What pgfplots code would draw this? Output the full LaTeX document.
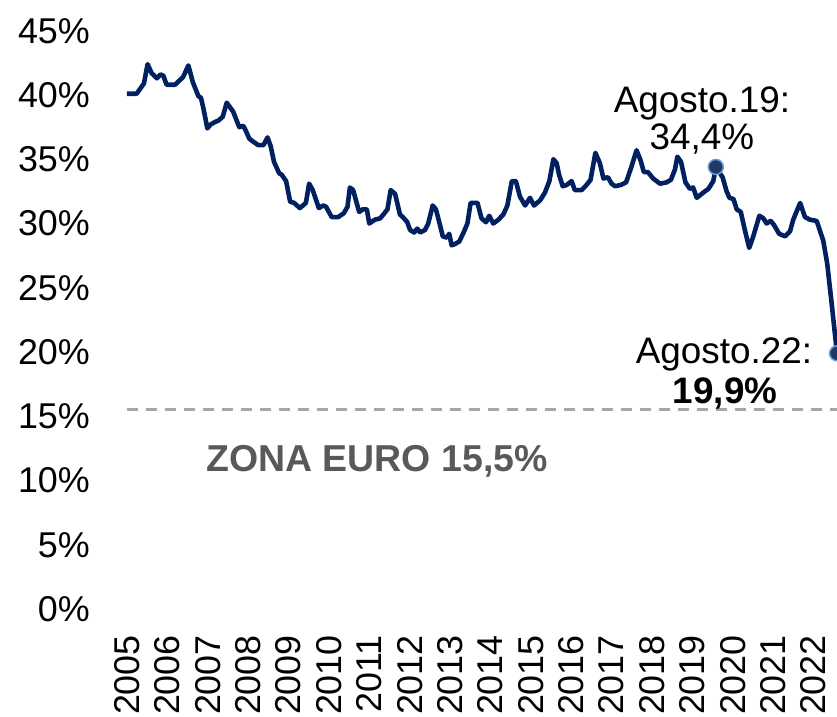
\documentclass[border=0pt]{standalone}
\usepackage{fontspec}
\setmainfont{Liberation Sans}
\usepackage{pgfplots}
\pgfplotsset{compat=1.18}
\definecolor{navy}{HTML}{002060}
\definecolor{mkfill}{HTML}{1F3864}
\definecolor{mkedge}{HTML}{6A9FD6}
\definecolor{dashgray}{HTML}{A6A6A6}
\definecolor{zona}{HTML}{595959}
\begin{document}
\begin{tikzpicture}
\begin{axis}[
  at={(0,0)}, anchor=south west, scale only axis,
  width=710bp, height=578.25bp,
  xmin=2005, xmax=2022.5833, ymin=0, ymax=45,
  axis line style={draw=none}, tick style={draw=none}, major tick length=0pt,
  xtick={2005,2006,2007,2008,2009,2010,2011,2012,2013,2014,2015,2016,2017,2018,2019,2020,2021,2022},
  xticklabels={2005,2006,2007,2008,2009,2010,2011,2012,2013,2014,2015,2016,2017,2018,2019,2020,2021,2022},
  ytick={0,5,10,15,20,25,30,35,40,45},
  yticklabels={0\%,5\%,10\%,15\%,20\%,25\%,30\%,35\%,40\%,45\%},
  yticklabel style={font=\fontsize{36}{40}\selectfont, anchor=east, inner sep=0pt, xshift=-37bp},
  xticklabel style={font=\fontsize{36}{40}\selectfont, yshift=-26bp, rotate=90, anchor=east, inner sep=0pt},
  clip=false,
]
\addplot[dashgray, line width=3bp, dash pattern=on 11bp off 8bp] coordinates {(2005,15.5) (2022.5833,15.5)};
\addplot[navy, line width=4.6bp, line join=round, mark=none] coordinates {
(2005.00,40.1) (2005.24,40.1) (2005.42,40.9) (2005.51,42.4) (2005.61,41.7) (2005.74,41.3)
(2005.83,41.6) (2005.90,41.5) (2005.98,40.8) (2006.19,40.8) (2006.39,41.4) (2006.52,42.3)
(2006.63,41.0) (2006.77,39.9) (2006.83,39.8) (2006.89,39.0) (2006.99,37.4) (2007.07,37.7)
(2007.18,37.9) (2007.26,38.0) (2007.37,38.3) (2007.47,39.4) (2007.63,38.7) (2007.78,37.5)
(2007.88,37.6) (2007.93,37.3) (2008.03,36.6) (2008.11,36.4) (2008.25,36.1) (2008.38,36.1)
(2008.48,36.7) (2008.56,36.0) (2008.64,34.8) (2008.77,33.9) (2008.83,33.8) (2008.94,33.3)
(2009.04,31.7) (2009.14,31.6) (2009.28,31.2) (2009.43,31.6) (2009.51,33.1) (2009.60,32.6)
(2009.75,31.2) (2009.86,31.4) (2009.93,31.3) (2010.07,30.5) (2010.23,30.5) (2010.37,30.8)
(2010.46,31.3) (2010.52,32.8) (2010.60,32.6) (2010.75,30.9) (2010.84,31.1) (2010.94,31.1)
(2011.00,30.0) (2011.14,30.3) (2011.27,30.4) (2011.35,30.7) (2011.45,31.1) (2011.53,32.6)
(2011.64,32.3) (2011.76,30.7) (2011.86,30.4) (2011.94,30.1) (2012.01,29.5) (2012.11,29.3)
(2012.19,29.6) (2012.26,29.3) (2012.38,29.5) (2012.46,30.0) (2012.57,31.4) (2012.65,31.1)
(2012.75,29.9) (2012.82,29.0) (2012.92,28.9) (2012.98,29.2) (2013.04,28.3) (2013.12,28.4)
(2013.23,28.6) (2013.35,29.4) (2013.43,30.0) (2013.51,31.6) (2013.68,31.6) (2013.78,30.4)
(2013.89,30.1) (2013.97,30.6) (2014.07,30.0) (2014.20,30.3) (2014.32,30.7) (2014.42,31.4)
(2014.53,33.3) (2014.63,33.3) (2014.73,32.1) (2014.86,31.4) (2014.98,32.0) (2015.08,31.4)
(2015.23,31.8) (2015.35,32.4) (2015.46,33.3) (2015.56,35.0) (2015.64,34.7) (2015.70,33.8)
(2015.79,32.9) (2015.89,33.0) (2016.01,33.3) (2016.09,32.6) (2016.26,32.6) (2016.38,33.0)
(2016.48,33.4) (2016.60,35.5) (2016.71,34.7) (2016.80,33.5) (2016.91,33.6) (2017.00,33.1)
(2017.09,32.9) (2017.23,33.0) (2017.36,33.2) (2017.48,34.3) (2017.62,35.7) (2017.72,34.9)
(2017.80,34.0) (2017.90,34.0) (2018.03,33.5) (2018.20,33.1) (2018.36,33.2) (2018.47,33.4)
(2018.57,34.2) (2018.63,35.2) (2018.72,34.8) (2018.83,33.2) (2018.94,32.7) (2019.02,32.8)
(2019.11,32.0) (2019.27,32.4) (2019.40,32.7) (2019.52,33.3) (2019.583,34.4) (2019.75,33.6)
(2019.85,32.5) (2019.92,32.0) (2020.02,31.9) (2020.10,31.1) (2020.20,30.9) (2020.30,29.5)
(2020.41,28.1) (2020.51,29.0) (2020.66,30.6) (2020.76,30.4) (2020.84,30.0) (2020.94,30.2)
(2021.02,29.9) (2021.15,29.2) (2021.30,29.0) (2021.42,29.4) (2021.50,30.3) (2021.67,31.6)
(2021.79,30.5) (2021.91,30.3) (2022.08,30.2) (2022.24,28.7) (2022.34,26.9) (2022.45,23.8)
(2022.5833,19.9)
};
\addplot[only marks, mark=*, mark size=7.5bp, mark options={fill=mkfill, draw=mkedge, line width=1.5bp}] coordinates {(2019.583,34.4) (2022.5833,19.9)};
\node[anchor=base, inner sep=0pt, font=\fontsize{37}{40}\selectfont] at (axis cs:2019.24,38.6) {Agosto.19:};
\node[anchor=base, inner sep=0pt, font=\fontsize{37}{40}\selectfont] at (axis cs:2019.24,35.72) {34,4\%};
\node[anchor=base, inner sep=0pt, font=\fontsize{37}{40}\selectfont] at (axis cs:2019.785,19.12) {Agosto.22:};
\node[anchor=base, inner sep=0pt, font=\fontsize{37}{40}\selectfont\bfseries] at (axis cs:2019.81,16.0) {19,9\%};
\node[anchor=base, inner sep=0pt, text=zona, font=\fontsize{37.6}{40}\selectfont\bfseries] at (axis cs:2011.19,10.68) {ZONA EURO 15,5\%};
\end{axis}
\pgfresetboundingbox
\useasboundingbox (-127bp,-108bp) rectangle (710bp,609bp);
\end{tikzpicture}
\end{document}
